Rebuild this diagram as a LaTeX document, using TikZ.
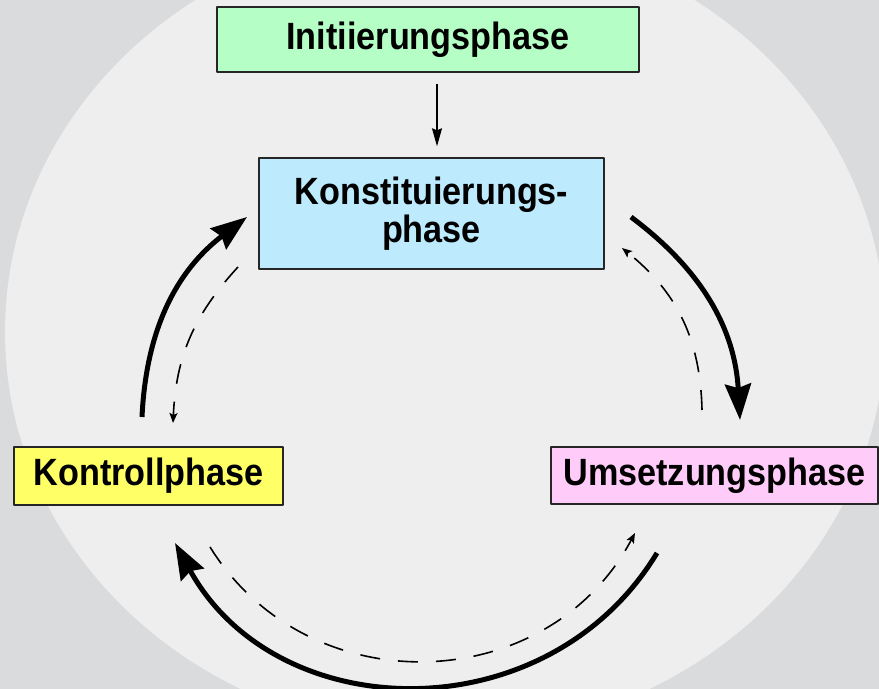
\documentclass[tikz,border=0pt]{standalone}
\usepackage{fontspec}
\setmainfont{Liberation Sans}[FakeStretch=0.9]
\usetikzlibrary{arrows.meta}
\definecolor{nen}{HTML}{DADBDD}
\definecolor{vong}{HTML}{EEEEEE}
\definecolor{xanhla}{HTML}{B5FFC6}
\definecolor{xanhduong}{HTML}{BDEBFD}
\definecolor{vang}{HTML}{FFFF66}
\definecolor{hong}{HTML}{FFCCFA}
\begin{document}
\begin{tikzpicture}[x=0.5pt,y=-0.5pt,line join=round,font=\bfseries\fontsize{19}{19}\selectfont,
	hop/.style={draw=black!85,line width=0.7pt,align=center,inner sep=0pt},
	mui/.style={line width=0.7pt,-{Stealth[length=9pt,width=5pt,inset=1pt]}},
	day/.style={line width=2.5pt,-{Stealth[length=18pt,width=13pt,inset=2pt]}},
	net/.style={line width=0.8pt,dash pattern=on 10pt off 9pt,-{Stealth[length=5pt,width=4pt,inset=1pt]}}]
	\useasboundingbox (0,0) rectangle (879,689);
	%Nen
	\fill[nen] (0,0) rectangle (879,689);
	\fill[vong] (445,332) ellipse [x radius=220pt,y radius=201.5pt];
	%Cac pha
	\node[hop,fill=xanhla,minimum width=211pt,minimum height=32.5pt] (I) at (428,39.5) {Initiierungsphase};
	\node[hop,fill=xanhduong,minimum width=172.5pt,minimum height=55.5pt] (K) at (431.5,213.5) {Konstituierungs-\\phase};
	\node[hop,fill=vang,minimum width=134.5pt,minimum height=29pt] (C) at (148.5,476) {Kontrollphase};
	\node[hop,fill=hong,minimum width=163.5pt,minimum height=28.5pt] (U) at (714.5,475.5) {Umsetzungsphase};
	\draw[mui] ([xshift=4.5pt,yshift=-5.5pt]I.south) -- ([xshift=2.75pt,yshift=5.5pt]K.north);
	%Vong tron
	\path (631,217) coordinate (A1) (740,420) coordinate (A2)
	(702,410) coordinate (B1) (622,248) coordinate (B2)
	(657,553) coordinate (A3) (175,543) coordinate (A4)
	(210,547) coordinate (B3) (635,533) coordinate (B4)
	(142,417) coordinate (A5) (247,217) coordinate (A6)
	(238,267) coordinate (B5) (173,423) coordinate (B6);
	\draw[day] (A1) to[bend left=25] (A2);
	\draw[net] (B1) to[bend right=25] (B2);
	\draw[day] (A3) to[bend left=60,looseness=1.12] (A4);
	\draw[net] (B3) to[bend right=60,looseness=1.12] (B4);
	\draw[day] (A5) to[bend left=25] (A6);
	\draw[net] (B5) to[bend right=20] (B6);
\end{tikzpicture}
\end{document}
